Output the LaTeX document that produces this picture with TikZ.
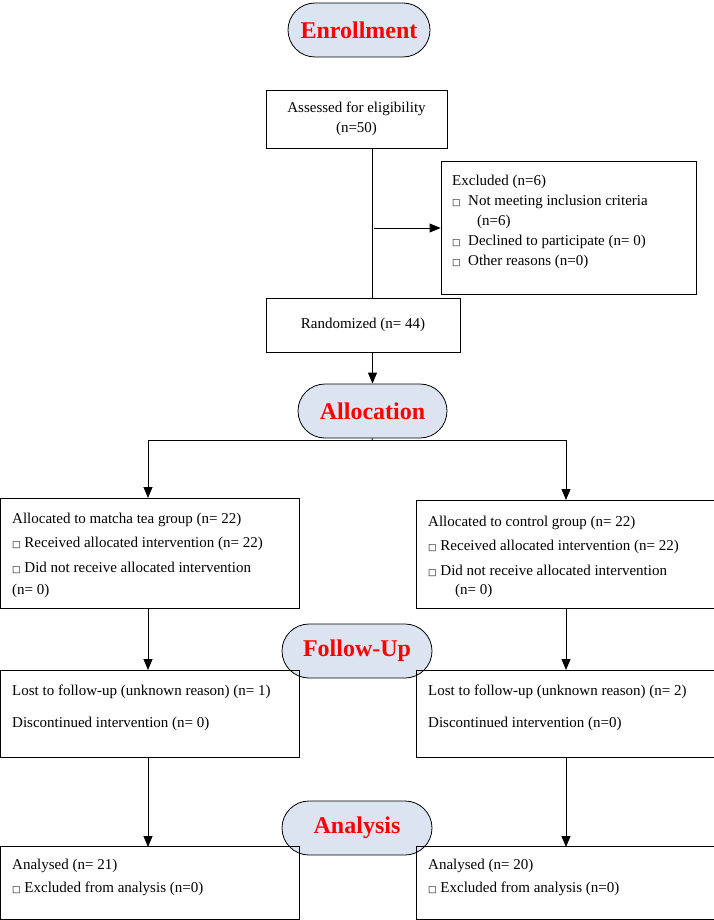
\documentclass[tikz,border=0pt]{standalone}
\usepackage{fontspec}
\setmainfont{Liberation Serif}
\newfontfamily\dvs{DejaVu Sans}
\usetikzlibrary{arrows.meta}
\newcommand{\bxm}{{\dvs\fontsize{9}{9}\selectfont □}}
\definecolor{pill}{RGB}{220,228,242}
\begin{document}
\begin{tikzpicture}[x=1pt,y=-1pt,
  box/.style={draw,line width=0.8pt,inner sep=0pt},
  txt/.style={font=\fontsize{15}{20}\selectfont,align=left,anchor=west,inner sep=0pt},
  pl/.style={draw,line width=0.8pt,fill=pill,rounded corners=27pt,font=\bfseries\fontsize{24}{24}\selectfont,text=red},
  arr/.style={line width=0.8pt,-{Triangle[length=11pt,width=9pt]}},
  ln/.style={line width=0.8pt}]
\useasboundingbox (0,0) rectangle (714,920);
% pills
\node[pl,minimum width=142pt,minimum height=54pt] (enr) at (359,30) {Enrollment};
\node[pl,minimum width=149pt,minimum height=54pt] (alc) at (372.5,411) {Allocation};
\node[pl,minimum width=150pt,minimum height=54pt] (fol) at (357,651) {Follow-Up};
\node[pl,minimum width=150pt,minimum height=54pt] (ana) at (357,828) {Analysis};
% boxes
\node[box,minimum width=181pt,minimum height=58pt,font=\fontsize{15}{20}\selectfont,align=center] (ass) at (356.5,119) {Assessed for eligibility\\(n=50)};
\node[box,minimum width=255pt,minimum height=133pt] (exc) at (568.5,227.5) {};
\node[txt] at (452,182) {Excluded (n=6)};
\node[txt] at (452,202) {\bxm\ \ Not meeting inclusion criteria};
\node[txt] at (477,222) {(n=6)};
\node[txt] at (452,242) {\bxm\ \ Declined to participate (n= 0)};
\node[txt] at (452,262) {\bxm\ \ Other reasons (n=0)};
\node[box,minimum width=194pt,minimum height=54pt,font=\fontsize{15}{20}\selectfont] (ran) at (363,325) {Randomized (n= 44)};
\coordinate (jn) at (372,228);
\draw[ln] (ass.south -| jn) -- (ran.north -| jn);
\draw[arr] (374,228) -- (jn -| exc.west);
\draw[arr] (ran.south -| alc) -- (alc.north);
% allocation
\node[box,minimum width=299pt,minimum height=110pt] (al) at (149.5,553) {};
\node[box,minimum width=298pt,minimum height=108pt] (ar) at (565,554) {};
\coordinate (sp) at (372,440);
\draw[ln] (alc.south) -- (sp);
\draw[arr] (sp) -| (148,498);
\draw[arr] (sp) -| (566,500);
\node[txt] at (12,520) {Allocated to matcha tea group (n= 22)};
\node[txt] at (12,544) {\bxm\ Received allocated intervention (n= 22)};
\node[txt] at (12,568) {\bxm\ Did not receive allocated intervention};
\node[txt] at (12,591) {(n= 0)};
\node[txt] at (428,523) {Allocated to control group (n= 22)};
\node[txt] at (428,547) {\bxm\ Received allocated intervention (n= 22)};
\node[txt] at (428,571) {\bxm\ Did not receive allocated intervention};
\node[txt] at (455,591) {(n= 0)};
% follow-up
\node[box,minimum width=299pt,minimum height=87pt] (fl) at (149.5,713.5) {};
\node[box,minimum width=298pt,minimum height=87pt] (fr) at (565,713.5) {};
\draw[arr] (148,608) -- (148,670);
\draw[arr] (566,608) -- (566,670);
\node[txt] at (12,692) {Lost to follow-up (unknown reason) (n= 1)};
\node[txt] at (12,724) {Discontinued intervention (n= 0)};
\node[txt] at (428,692) {Lost to follow-up (unknown reason) (n= 2)};
\node[txt] at (428,724) {Discontinued intervention (n=0)};
% analysis
\node[box,minimum width=299pt,minimum height=73pt] (nl) at (149.5,883) {};
\node[box,minimum width=298pt,minimum height=73pt] (nr) at (565,883) {};
\draw[arr] (148,757) -- (148,847);
\draw[arr] (566,757) -- (566,847);
\node[txt] at (12,866) {Analysed (n= 21)};
\node[txt] at (12,889) {\bxm\ Excluded from analysis (n=0)};
\node[txt] at (428,866) {Analysed (n= 20)};
\node[txt] at (428,889) {\bxm\ Excluded from analysis (n=0)};
\end{tikzpicture}
\end{document}
